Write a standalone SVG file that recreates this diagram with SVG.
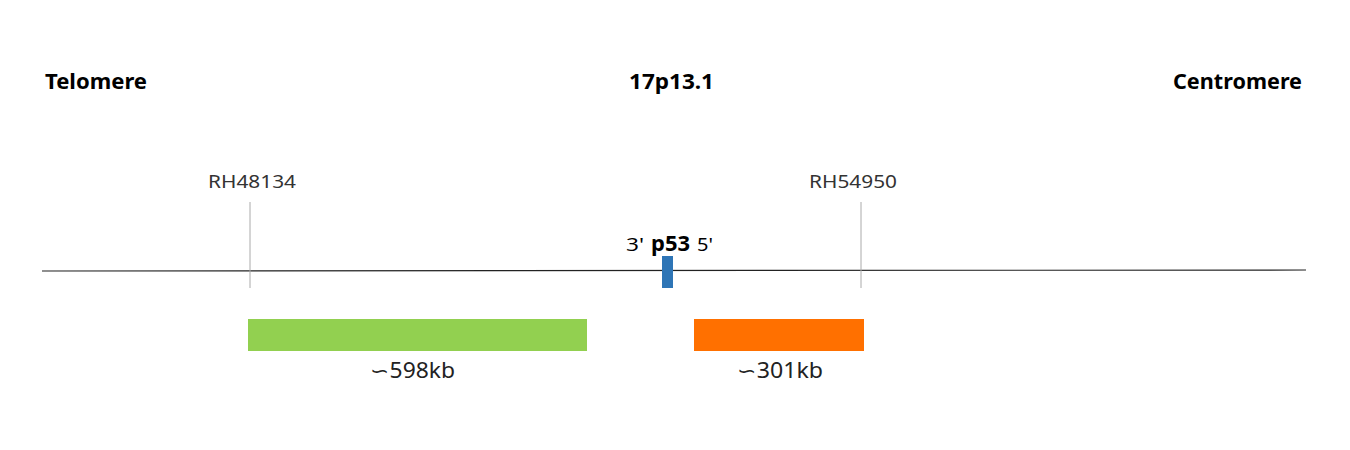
<svg xmlns="http://www.w3.org/2000/svg" width="1350" height="450" viewBox="0 0 1350 450">
<style>
.t{font-family:"Noto Sans","Liberation Sans",sans-serif;fill:#000}
.h{font-size:21px;font-weight:bold}
.m{font-size:18px;fill:#333}
.k{font-size:21px;fill:#222}
.tick{stroke:#aaa;stroke-width:1}
</style>
<rect width="1350" height="450" fill="#fff"/>
<g id="connectors">
<line x1="42" y1="271" x2="1306" y2="270" stroke="#222" stroke-width="1.2"/>
<line class="tick" x1="250" y1="202" x2="250" y2="288"/>
<line class="tick" x1="861" y1="202" x2="861" y2="288"/>
</g>
<g id="telomere"><text class="t h" x="45" y="89" textLength="102" lengthAdjust="spacingAndGlyphs">Telomere</text></g>
<g id="band"><text class="t h" x="629" y="89" textLength="85" lengthAdjust="spacingAndGlyphs">17p13.1</text></g>
<g id="centromere"><text class="t h" x="1173" y="89" textLength="129" lengthAdjust="spacingAndGlyphs">Centromere</text></g>
<g id="rh48134"><text class="t m" x="208" y="188" textLength="88" lengthAdjust="spacingAndGlyphs">RH48134</text></g>
<g id="rh54950"><text class="t m" x="809" y="188" textLength="88" lengthAdjust="spacingAndGlyphs">RH54950</text></g>
<g id="p53">
<rect x="662" y="256" width="11" height="32" fill="#2e75b6"/>
<text class="t" x="626" y="251"><tspan font-size="18" textLength="18" lengthAdjust="spacingAndGlyphs">3'</tspan><tspan x="651" font-size="21" font-weight="bold" textLength="39" lengthAdjust="spacingAndGlyphs">p53</tspan><tspan x="697" font-size="18" textLength="16" lengthAdjust="spacingAndGlyphs">5'</tspan></text>
</g>
<g id="region598">
<rect x="248" y="319" width="339" height="32" fill="#92d050"/>
<text class="t k" x="370" y="378" textLength="85" lengthAdjust="spacingAndGlyphs">∽598kb</text>
</g>
<g id="region301">
<rect x="694" y="319" width="170" height="32" fill="#ff7000"/>
<text class="t k" x="737" y="378" textLength="86" lengthAdjust="spacingAndGlyphs">∽301kb</text>
</g>
</svg>
